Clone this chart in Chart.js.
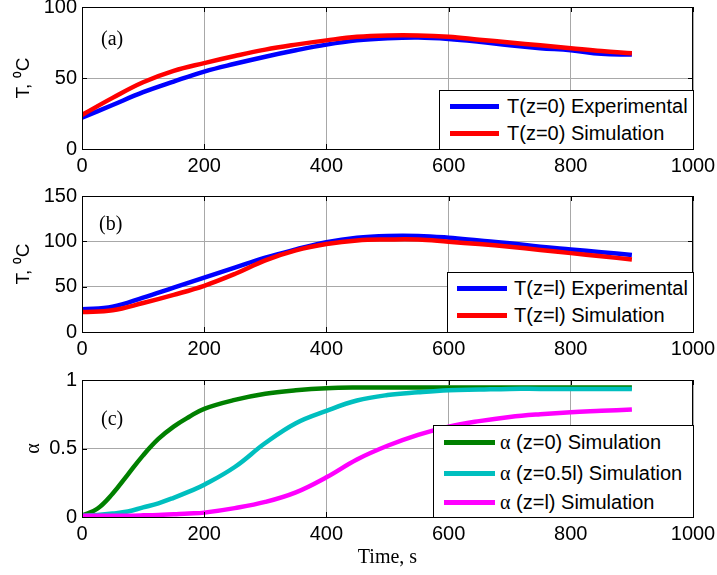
<!DOCTYPE html>
<html>
<head>
<meta charset="utf-8">
<script src="https://cdn.jsdelivr.net/npm/chart.js@4.4.1/dist/chart.umd.min.js"></script>
<style>
body{margin:0;background:#fff;}
#wrap{position:relative;width:717px;height:575px;overflow:hidden;background:#fff;}
canvas{position:absolute;left:0;}
.lbl{position:absolute;font-family:"Liberation Serif","Times New Roman",serif;font-size:20px;line-height:20px;}
.leg{position:absolute;border:1px solid #000;background:#fff;box-sizing:border-box;font-family:"Liberation Sans",Arial,sans-serif;font-size:20px;color:#000;}
.leg .smp{position:absolute;height:5px;}
.leg .txt{position:absolute;line-height:24px;white-space:nowrap;}
.greek{font-family:"Liberation Serif","Times New Roman",serif;}
</style>
</head>
<body>
<div id="wrap">
  <canvas id="c1" width="717" height="180" style="top:0px"></canvas>
  <canvas id="c2" width="717" height="185" style="top:180px"></canvas>
  <canvas id="c3" width="717" height="210" style="top:365px"></canvas>
  <div class="lbl" style="left:101px;top:28px">(a)</div>
  <div class="lbl" style="left:99px;top:213px">(b)</div>
  <div class="lbl" style="left:101px;top:408px">(c)</div>
</div>
<script>
// time axis (s)
const xTicks = [0, 200, 400, 600, 800, 1000];

// (a) z=0
const tA = [0, 50, 100, 150, 200, 250, 300, 350, 400, 450, 500, 550, 600, 650, 700, 750, 800, 850, 900];
const expA = [22, 31, 40, 47.5, 54.5, 60, 65, 69.5, 73.5, 76.5, 78, 78.5, 77.5, 75.5, 73, 71, 69.5, 67, 66.5];
const simA = [24, 36, 47, 55, 60.5, 65.5, 70, 73.5, 76.5, 79, 80, 80, 79, 77, 75, 73, 71, 69, 67.5];

// (b) z=l
const tB = [0, 50, 100, 150, 200, 250, 300, 350, 400, 450, 500, 550, 600, 650, 700, 750, 800, 850, 900];
const expB = [25, 28, 38, 49, 60, 71, 82, 91, 99, 104, 106, 106, 104, 101, 98, 94, 91, 88, 85];
const simB = [22, 24, 32, 41, 51, 64, 79, 90, 97, 101, 102, 102, 99.5, 97, 94, 90.5, 87, 83.5, 80];

// (c) conversion
const tC = [0, 25, 50, 75, 100, 125, 150, 175, 200, 250, 300, 350, 400, 450, 500, 550, 600, 650, 700, 750, 800, 850, 900];
const alpha0 = [0.01, 0.06, 0.17, 0.31, 0.45, 0.57, 0.66, 0.73, 0.79, 0.855, 0.9, 0.925, 0.94, 0.945, 0.945, 0.945, 0.945, 0.945, 0.945, 0.945, 0.945, 0.945, 0.945];
const alphaHalf = [0.01, 0.015, 0.025, 0.04, 0.07, 0.1, 0.14, 0.185, 0.235, 0.365, 0.54, 0.685, 0.775, 0.85, 0.89, 0.91, 0.925, 0.93, 0.935, 0.935, 0.935, 0.935, 0.935];
const alphaL = [0.01, 0.01, 0.01, 0.01, 0.012, 0.015, 0.02, 0.025, 0.032, 0.065, 0.11, 0.18, 0.29, 0.42, 0.52, 0.6, 0.66, 0.7, 0.73, 0.75, 0.765, 0.775, 0.785];

const sans = '"Liberation Sans", Arial, sans-serif';
const serif = '"Liberation Serif", "Times New Roman", serif';
const tickFont = {family: sans, size: 20};

function pts(t, v){ return t.map((x, i) => ({x: x, y: v[i]})); }

function ds(label, t, v, color, order){
  return {label: label, data: pts(t, v), borderColor: color, backgroundColor: color,
    borderWidth: 4.5, pointRadius: 0, tension: 0.4, order: order};
}

// matlab style box + inward ticks
const frame = {
  id: 'frame',
  afterDatasetsDraw(chart){
    const {ctx, chartArea: a, scales} = chart;
    ctx.save();
    ctx.strokeStyle = '#000';
    ctx.lineWidth = 1;
    ctx.beginPath();
    scales.x.ticks.forEach(tk => {
      const px = Math.round(scales.x.getPixelForValue(tk.value)) + 0.5;
      ctx.moveTo(px, a.bottom); ctx.lineTo(px, a.bottom - 5);
      ctx.moveTo(px, a.top); ctx.lineTo(px, a.top + 5);
    });
    scales.y.ticks.forEach(tk => {
      const py = Math.round(scales.y.getPixelForValue(tk.value)) + 0.5;
      ctx.moveTo(a.left, py); ctx.lineTo(a.left + 5, py);
      ctx.moveTo(a.right, py); ctx.lineTo(a.right - 5, py);
    });
    ctx.stroke();
    ctx.strokeRect(Math.round(a.left) + 0.5, Math.round(a.top) + 0.5, Math.round(a.right - a.left) - 1, Math.round(a.bottom - a.top));
    ctx.restore();
  }
};

function makeChart(id, datasets, ymax, ystep, yTitle, padTop, xh, xTitle){
  return new Chart(document.getElementById(id), {
    type: 'line',
    data: {datasets: datasets},
    plugins: [frame],
    options: {
      responsive: false,
      animation: false,
      layout: {padding: {top: padTop, right: 24, left: 0, bottom: 0}},
      plugins: {legend: {display: false}, tooltip: {enabled: false}},
      scales: {
        x: {
          type: 'linear', min: 0, max: 1000,
          afterBuildTicks(s){ s.ticks = xTicks.map(v => ({value: v})); },
          ticks: {color: '#000', font: tickFont, padding: 5, maxRotation: 0, callback: v => String(v)},
          grid: {color: '#a8a8a8', drawTicks: false},
          border: {color: '#000'},
          title: xTitle ? {display: true, text: xTitle, color: '#000', font: {family: serif, size: 20}, padding: {top: 0, bottom: 5}} : {display: false},
          afterFit(s){ s.height = xh; s.paddingLeft = 0; s.paddingRight = 0; }
        },
        y: {
          min: 0, max: ymax,
          ticks: {stepSize: ystep, color: '#000', font: tickFont, padding: 5, callback: v => String(v)},
          grid: {color: '#a8a8a8', drawTicks: false},
          border: {color: '#000'},
          title: yTitle,
          afterFit(s){ s.width = 82; s.paddingTop = 0; s.paddingBottom = 0; }
        }
      }
    }
  });
}

const tTitle = {display: true, text: 'T, \u2070C', color: '#000', font: {family: sans, size: 19}, padding: {top: 12, bottom: 0}};

const ch1 = makeChart('c1', [
  ds('T(z=0) Experimental', tA, expA, '#0000ff', 1),
  ds('T(z=0) Simulation', tA, simA, '#ff0000', 0)
], 100, 50, tTitle, 7, 31, null);

const ch2 = makeChart('c2', [
  ds('T(z=l) Experimental', tB, expB, '#0000ff', 1),
  ds('T(z=l) Simulation', tB, simB, '#ff0000', 0)
], 150, 50, tTitle, 16, 33, null);

const ch3 = makeChart('c3', [
  ds('\u03b1 (z=0) Simulation', tC, alpha0, '#008000', 2),
  ds('\u03b1 (z=0.5l) Simulation', tC, alphaHalf, '#00bfbf', 1),
  ds('\u03b1 (z=l) Simulation', tC, alphaL, '#ff00ff', 0)
], 1, 0.5, {display: true, text: '\u03b1', color: '#000', font: {family: serif, size: 20}, padding: {top: 22, bottom: 0}}, 15, 58, 'Time, s');

// html legends inside the axes
function legend(chart, box){
  const wrap = document.getElementById('wrap');
  const el = document.createElement('div');
  el.className = 'leg';
  el.style.left = box.left + 'px'; el.style.top = box.top + 'px';
  el.style.width = box.w + 'px'; el.style.height = box.h + 'px';
  chart.data.datasets.forEach((d, i) => {
    const cy = box.rows[i];
    const s = document.createElement('div');
    s.className = 'smp';
    s.style.left = box.sx + 'px'; s.style.width = box.sw + 'px';
    s.style.top = (cy - 3) + 'px'; s.style.background = d.borderColor;
    el.appendChild(s);
    const t = document.createElement('div');
    t.className = 'txt';
    t.style.left = box.tx + 'px'; t.style.top = (cy - 13) + 'px';
    if (d.label.charAt(0) === '\u03b1') {
      const g = document.createElement('span');
      g.className = 'greek'; g.textContent = '\u03b1';
      t.appendChild(g);
      t.appendChild(document.createTextNode(d.label.slice(1)));
    } else {
      t.textContent = d.label;
    }
    el.appendChild(t);
  });
  wrap.appendChild(el);
}

legend(ch1, {left: 439, top: 90, w: 255, h: 60, rows: [16, 43], sx: 10, sw: 49, tx: 67});
legend(ch2, {left: 447, top: 272, w: 247, h: 61, rows: [16, 43], sx: 9, sw: 50, tx: 66});
legend(ch3, {left: 433, top: 425, w: 261, h: 93, rows: [17, 48, 77], sx: 10, sw: 51, tx: 66});
</script>
</body>
</html>
